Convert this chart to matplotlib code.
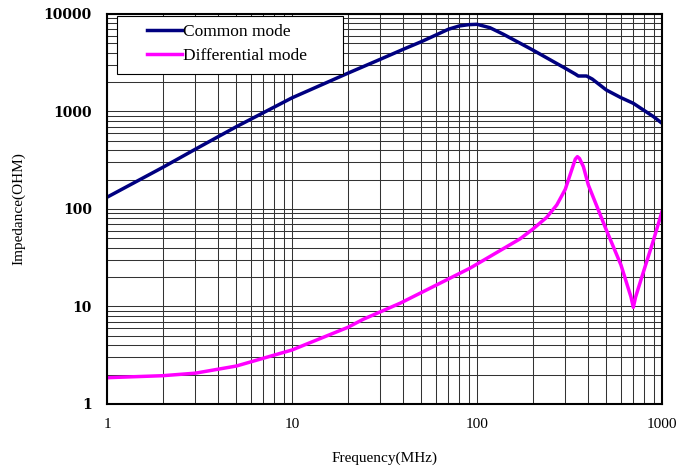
import matplotlib
matplotlib.use("Agg")
import matplotlib.pyplot as plt
from matplotlib.patches import Rectangle
from matplotlib.ticker import FixedLocator, NullFormatter

# Common mode impedance
cm_freq = [1, 2, 3, 5, 10, 20, 30, 40, 50, 60, 70, 80, 90, 100, 117.5, 139,
           200, 300, 340, 353, 391, 420, 500, 600, 700, 900, 1000]
cm_imp = [132, 267, 410, 698, 1380, 2465, 3430, 4350, 5200, 6090, 6970, 7530, 7770, 7840, 7230, 6190,
          4275, 2775, 2420, 2312, 2312, 2150, 1662, 1386, 1213, 885, 757]

# Differential mode impedance
dm_freq = [1, 2, 3, 5, 10, 20, 24.3, 38.4, 91.6, 170.7, 200, 238, 270, 300, 325, 340, 349,
           358, 376, 400, 500, 600, 680, 700, 720, 800, 900, 1000]
dm_imp = [1.86, 1.95, 2.07, 2.45, 3.58, 6.1, 7.4, 10.8, 24.7, 49.3, 62, 82, 110, 159, 251, 325, 344,
          330, 272, 176, 61, 26.7, 12.5, 9.8, 12.5, 23.7, 48, 94]

x_ticks = [1, 10, 100, 1000]
y_ticks = [1, 10, 100, 1000, 10000]

plt.rcParams["font.family"] = ["Liberation Serif", "DejaVu Serif"]

fig = plt.figure(figsize=(6.91, 4.71), dpi=100)
ax = fig.add_axes([0.1549, 0.1423, 0.8031, 0.828])

ax.plot(cm_freq, cm_imp, color="#000080", lw=2.5, label="Common mode")
ax.plot(dm_freq, dm_imp, color="#FF00FF", lw=2.5, label="Differential mode")

ax.set_xscale("log")
ax.set_yscale("log")
ax.set_xlim(1, 1000)
ax.set_ylim(1, 10000)

ax.xaxis.set_major_locator(FixedLocator(x_ticks))
ax.yaxis.set_major_locator(FixedLocator(y_ticks))
ax.set_xticklabels([str(t) for t in x_ticks], fontsize=11)
ax.set_yticklabels([str(t) for t in y_ticks], fontsize=10, family="DejaVu Serif",
                   fontweight="bold")
ax.xaxis.set_minor_formatter(NullFormatter())
ax.yaxis.set_minor_formatter(NullFormatter())
ax.tick_params(which="both", length=0)
ax.tick_params(axis="x", pad=10)
ax.tick_params(axis="y", pad=11)

ax.grid(True, which="both", color="#333333", lw=0.75)
ax.set_axisbelow(True)
for s in ax.spines.values():
    s.set_linewidth(1.5)

ax.set_xlabel("Frequency(MHz)", fontsize=11, labelpad=15)
ax.set_ylabel("Impedance(OHM)", fontsize=11, labelpad=13)

# legend box
ax.add_patch(Rectangle((0.018, 0.846), 0.407, 0.149, transform=ax.transAxes,
                       facecolor="white", edgecolor="black", lw=0.8, zorder=4))
leg = ax.legend(loc="upper left", bbox_to_anchor=(0.072, 0.974), fontsize=12.5,
                frameon=False, handlelength=2.0, handletextpad=0.1, borderpad=0,
                labelspacing=0.45, borderaxespad=0)
leg.set_zorder(5)

fig.savefig("out.png", dpi=100)
